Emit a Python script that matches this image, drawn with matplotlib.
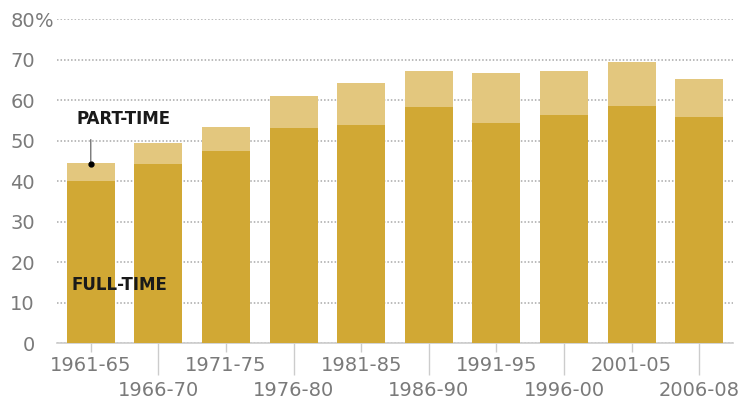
import matplotlib.pyplot as plt
import numpy as np

periods = ['1961-65', '1966-70', '1971-75', '1976-80', '1981-85',
           '1986-90', '1991-95', '1996-00', '2001-05', '2006-08']
full_time = [40, 44.2, 47.4, 53.1, 54.0, 58.3, 54.3, 56.5, 58.5, 55.8]
total = [44.5, 49.4, 53.3, 61.2, 64.4, 67.2, 66.7, 67.2, 69.4, 65.4]
part_time = [t - f for t, f in zip(total, full_time)]

full_col = '#D1A834'
part_col = '#E3C77E'
grey = '#7a7a7a'

fig = plt.figure(figsize=(7.49, 4.15), dpi=100)
ax = fig.add_axes([57/749, 1-343/415, (733-57)/749, (343-19.5)/415])

x = np.arange(len(periods))
ax.bar(x, full_time, width=0.71, color=full_col, zorder=3)
ax.bar(x, part_time, bottom=full_time, width=0.71, color=part_col, zorder=3)

ax.set_xlim(-0.5, 9.5)
ax.set_ylim(0, 80)

# y axis: numbers right-aligned, % sign hanging after the top one
yt = list(range(0, 90, 10))
ax.set_yticks(yt)
ax.set_yticklabels([str(v) for v in yt], fontsize=14, color=grey)
ax.tick_params(axis='y', length=0, pad=16)
ax.annotate('%', xy=(0, 80), xycoords=('axes fraction', 'data'),
            xytext=(-16, 0), textcoords='offset points', fontsize=14,
            color=grey, ha='left', va='center_baseline')
ax.yaxis.grid(True, linestyle=(0, (1, 1.3)), color='#a8a8a8', lw=1.1, zorder=0)

# x axis: alternate labels on two rows
ax.set_xticks(x[::2])
ax.set_xticklabels(periods[::2], fontsize=14, color=grey)
ax.set_xticks(x[1::2], minor=True)
ax.set_xticklabels(periods[1::2], minor=True, fontsize=14, color=grey)
ax.tick_params(axis='x', which='major', length=6.5, pad=3, color='#cccccc', width=1)
ax.tick_params(axis='x', which='minor', length=23, pad=4, color='#cccccc', width=1)

for s in ['top', 'right', 'left']:
    ax.spines[s].set_visible(False)
ax.spines['bottom'].set_color('#cccccc')
ax.spines['bottom'].set_linewidth(1.2)

ax.annotate('', xy=(0, 44.2), xytext=(0, 51),
            arrowprops=dict(arrowstyle='-', color='#555555', lw=0.8), zorder=5)
ax.plot([0], [44.2], 'o', color='black', ms=3.5, zorder=6)
ax.text(0.49, 55.3, 'PART-TIME', fontsize=12, fontweight='bold', ha='center',
        va='center', color='#1a1a1a', zorder=6)
ax.text(0.42, 14.3, 'FULL-TIME', fontsize=12, fontweight='bold', ha='center',
        va='center', color='#1a1a1a', zorder=6)

fig.savefig('out.png', dpi=100)
